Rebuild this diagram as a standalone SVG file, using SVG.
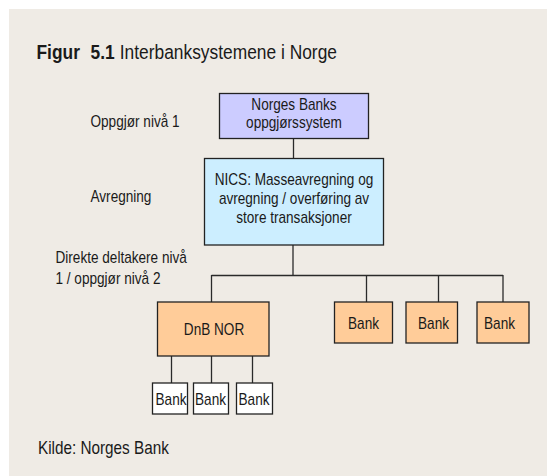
<svg xmlns="http://www.w3.org/2000/svg" width="547" height="476" viewBox="0 0 547 476">
  <style>
    text { font-family: "Liberation Sans", Arial, sans-serif; fill: #1a1a1a; }
    .lbl { font-size: 16px; }
    .box { font-size: 16px; text-anchor: middle; }
    .title { font-size: 19.3px; }
    .note { font-size: 18px; }
    .node rect { stroke: #222; stroke-width: 1.3; }
    .n1 { fill: #ccccff; }
    .n2 { fill: #cceeff; }
    .n3 { fill: #ffcc99; }
    .n4 { fill: #ffffff; }
    #connectors line { stroke: #2a2a2a; stroke-width: 1.3; }
  </style>

  <!-- page panel -->
  <rect x="0" y="0" width="547" height="476" fill="#ffffff"/>
  <rect x="9" y="9" width="538" height="467" fill="#efebe5"/>

  <!-- heading (condensed lettering) -->
  <g transform="translate(36.5,58.5) scale(0.9,1)">
    <text class="title" x="0" y="0"><tspan font-weight="bold">Figur</tspan><tspan x="60" font-weight="bold">5.1</tspan><tspan x="92.5">Interbanksystemene i Norge</tspan></text>
  </g>

  <!-- level labels -->
  <text class="lbl" transform="translate(90.5,127) scale(0.85,1)">Oppgjør nivå 1</text>
  <text class="lbl" transform="translate(90.5,202) scale(0.85,1)">Avregning</text>
  <text class="lbl" transform="translate(55.5,263) scale(0.85,1)">Direkte deltakere nivå</text>
  <text class="lbl" transform="translate(55.5,284) scale(0.85,1)">1 / oppgjør nivå 2</text>

  <!-- connectors -->
  <g id="connectors">
    <line x1="293.5" y1="138" x2="293.5" y2="158.5"/>
    <line x1="293" y1="245" x2="293" y2="275.5"/>
    <line x1="211.5" y1="275.5" x2="503" y2="275.5"/>
    <line x1="211.5" y1="275" x2="211.5" y2="302"/>
    <line x1="366.5" y1="275" x2="366.5" y2="302"/>
    <line x1="438.5" y1="275" x2="438.5" y2="302"/>
    <line x1="503" y1="275" x2="503" y2="302"/>
    <line x1="171.5" y1="356" x2="171.5" y2="383"/>
    <line x1="211.5" y1="356" x2="211.5" y2="383"/>
    <line x1="252.5" y1="356" x2="252.5" y2="383"/>
  </g>

  <!-- nodes -->
  <g id="norges-bank" class="node">
    <rect class="n1" x="219.5" y="93.5" width="149" height="45"/>
    <text class="box" transform="translate(294,109.5) scale(0.85,1)">Norges Banks</text>
    <text class="box" transform="translate(294,128) scale(0.85,1)">oppgjørssystem</text>
  </g>
  <g id="nics" class="node">
    <rect class="n2" x="204.5" y="158.5" width="179" height="86.5"/>
    <text class="box" transform="translate(294,185) scale(0.85,1)">NICS: Masseavregning og</text>
    <text class="box" transform="translate(294,204) scale(0.85,1)">avregning / overføring av</text>
    <text class="box" transform="translate(294,222.5) scale(0.85,1)">store transaksjoner</text>
  </g>
  <g id="dnb-nor" class="node">
    <rect class="n3" x="157.5" y="302" width="111.5" height="54"/>
    <text class="box" transform="translate(214,335) scale(0.85,1)">DnB NOR</text>
  </g>
  <g id="bank-a" class="node">
    <rect class="n3" x="334.5" y="302" width="58" height="41"/>
    <text class="box" transform="translate(363.5,329) scale(0.85,1)">Bank</text>
  </g>
  <g id="bank-b" class="node">
    <rect class="n3" x="406" y="302" width="51.5" height="41"/>
    <text class="box" transform="translate(433.5,329) scale(0.85,1)">Bank</text>
  </g>
  <g id="bank-c" class="node">
    <rect class="n3" x="477" y="302" width="52" height="41"/>
    <text class="box" transform="translate(499.5,329) scale(0.85,1)">Bank</text>
  </g>
  <g id="bank-d" class="node">
    <rect class="n4" x="152.5" y="383" width="35" height="31"/>
    <text class="box" transform="translate(171,405) scale(0.85,1)">Bank</text>
  </g>
  <g id="bank-e" class="node">
    <rect class="n4" x="193.5" y="383" width="35" height="31"/>
    <text class="box" transform="translate(210.5,405) scale(0.85,1)">Bank</text>
  </g>
  <g id="bank-f" class="node">
    <rect class="n4" x="236.5" y="383" width="36" height="31"/>
    <text class="box" transform="translate(254,405) scale(0.85,1)">Bank</text>
  </g>

  <!-- source note -->
  <text class="note" transform="translate(38,454) scale(0.85,1)">Kilde: Norges Bank</text>
</svg>
